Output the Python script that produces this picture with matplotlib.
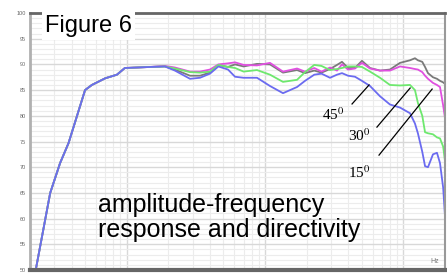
import numpy as np
import matplotlib.pyplot as plt
from matplotlib.ticker import LogLocator, NullFormatter

plt.rcParams['font.family'] = ['Liberation Sans', 'DejaVu Sans']
plt.rcParams['mathtext.fontset'] = 'stix'

# shared low-frequency part (all curves overlap)
f_low = [22, 28, 33, 38, 44, 50, 56, 70, 85, 97, 147]
db_low = [50, 65, 70.8, 74.7, 80.2, 85, 86, 87.3, 88, 89.3, 89.5]

f_hi = [189, 223, 287, 339, 400, 460, 540, 607, 700, 875, 1086, 1349, 1704,
        1946, 2270, 2560, 2949, 3314, 3600, 3980, 4470, 5020, 5740, 6780,
        8000, 9460, 11170, 12130, 12740, 13700, 14350, 15070, 16370, 17500,
        18400, 19400, 20000]

db_0 = [89.6, 89.0, 87.8, 87.8, 88.4, 89.9, 89.5, 90.0, 89.6, 90.1, 90.0, 88.4, 88.9,
        88.3, 88.8, 88.4, 89.1, 89.9, 90.5, 89.3, 89.3, 90.7, 89.3, 88.8,
        89.0, 90.3, 90.8, 91.2, 90.8, 90.5, 89.5, 88.3, 87.5, 87.2,
        86.8, 86.5, 86.2]
db_15 = [89.7, 89.4, 88.6, 88.6, 89.0, 90.0, 90.2, 90.4, 89.9, 89.8, 90.3, 88.6, 89.2,
         88.6, 89.3, 88.6, 89.4, 88.8, 90.0, 89.0, 89.2, 90.3, 89.2, 88.8,
         88.8, 89.6, 89.3, 89.1, 89.0, 88.5, 87.8, 87.2, 86.4, 86.0,
         85.6, 82.0, 79.6]
db_30 = [89.6, 89.2, 88.5, 88.4, 88.6, 89.9, 89.5, 89.3, 88.6, 88.9, 88.0, 86.6, 87.0,
         88.5, 89.9, 89.7, 88.9, 89.1, 89.3, 89.6, 89.6, 89.5, 88.6, 87.4,
         86.0, 85.9, 86.0, 85.0, 82.5, 80.0, 76.8, 76.6, 76.4, 75.8,
         75.6, 74.0, 71.2]
db_45 = [89.6, 88.8, 87.2, 87.4, 88.2, 89.6, 89.0, 87.6, 87.4, 87.4, 85.8, 84.4, 85.6,
         86.8, 88.0, 88.2, 87.4, 88.0, 88.3, 87.8, 87.6, 86.8, 85.8, 83.8,
         82.2, 81.6, 80.5, 78.5, 76.6, 73.0, 70.2, 70.0, 72.5, 72.8,
         70.8, 66.0, 60.5]

curves = [(db_0, '#7a7a7a'), (db_15, '#e050e0'), (db_30, '#6ee86e'), (db_45, '#6b6bf0')]

fig = plt.figure(figsize=(4.47, 2.73), dpi=100)
ax = fig.add_axes([30 / 447, 3 / 273, 415 / 447, 257 / 273])

for db, col in curves:
    ax.plot(f_low + f_hi, db_low + db, color=col, lw=1.3, solid_joinstyle='round')

ax.set_xscale('log')
ax.set_xlim(20, 20000)
ax.set_ylim(50, 100)
ax.xaxis.set_minor_locator(LogLocator(subs=np.arange(2, 10)))
ax.xaxis.set_minor_formatter(NullFormatter())
ax.set_xticklabels([])
ax.set_yticks(np.arange(50, 101, 5))
ax.set_yticks(np.arange(50, 101, 1), minor=True)
ax.tick_params(which='both', length=0)
ax.tick_params(axis='y', labelsize=4, labelcolor='#666666', pad=3)
ax.grid(which='major', color='#d8d8d8', lw=1.0)
ax.grid(which='minor', color='#ececec', lw=0.8)
ax.set_axisbelow(True)

ax.spines['top'].set_color('#666666')
ax.spines['top'].set_linewidth(2)
ax.spines['bottom'].set_color('#666666')
ax.spines['bottom'].set_linewidth(3)
ax.spines['left'].set_color('#b0b0b0')
ax.spines['left'].set_linewidth(2)
ax.spines['right'].set_color('#999999')
ax.spines['right'].set_linewidth(1.5)

# annotation lines and angle labels
for (x0, y0), (x1, y1) in [((0.776, 0.646), (0.817, 0.720)),
                           ((0.836, 0.556), (0.916, 0.708)),
                           ((0.841, 0.447), (0.969, 0.704))]:
    ax.plot([x0, x1], [y0, y1], color='black', lw=0.9, transform=ax.transAxes)

for lab, x, y in [('45$^0$', 0.704, 0.584), ('30$^0$', 0.766, 0.502), ('15$^0$', 0.766, 0.358)]:
    ax.text(x, y, lab, transform=ax.transAxes, fontsize=11,
            family=['Liberation Serif'], va='baseline', ha='left')

fig.text(45 / 447, (273 - 32) / 273, 'Figure 6', fontsize=17, va='baseline', ha='left',
         bbox=dict(facecolor='white', edgecolor='none', pad=2))
fig.text(98 / 447, (273 - 237) / 273, 'amplitude-frequency\nresponse and directivity',
         fontsize=18, va='baseline', ha='left', linespacing=1.05)
ax.text(0.985, 0.02, 'Hz', transform=ax.transAxes, fontsize=5, color='#777777',
        ha='right', va='bottom')

fig.savefig('out.png', dpi=100)
